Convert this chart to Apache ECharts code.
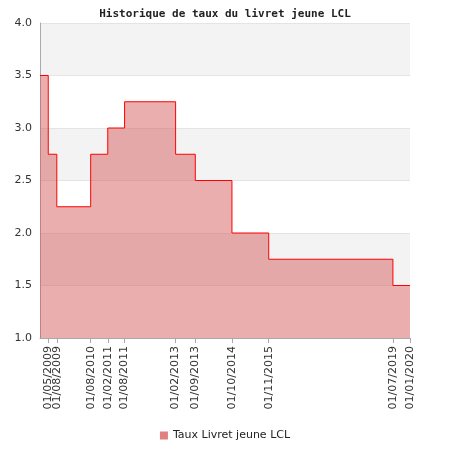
<!DOCTYPE html>
<html>
<head>
<meta charset="UTF-8">
<script src="https://cdn.jsdelivr.net/npm/echarts@6/dist/echarts.min.js"></script>
</head>
<body style="margin:0;">
<div id="chart" style="width:450px;height:450px;"></div>
<script>
var dates = ['2009-02-01','2009-05-01','2009-08-01','2010-08-01','2011-02-01','2011-08-01','2013-02-01','2013-09-01','2014-10-01','2015-11-01','2019-07-01','2020-01-01'];
var rates = [3.5, 2.75, 2.25, 2.75, 3.0, 3.25, 2.75, 2.5, 2.0, 1.75, 1.5, 1.5];
var yTicks = [1.0, 1.5, 2.0, 2.5, 3.0, 3.5, 4.0];

function ts(d) { return new Date(d + 'T00:00:00Z').getTime(); }
function pad(n) { return (n < 10 ? '0' : '') + n; }

var tickValues = dates.map(ts);
var seriesData = dates.map(function (d, i) { return [ts(d), rates[i]]; });

var chart = echarts.init(document.getElementById('chart'));
chart.setOption({
    animation: false,
    title: {
        text: 'Historique de taux du livret jeune LCL',
        left: 'center', top: 4,
        textStyle: {fontFamily: 'DejaVu Sans Mono', fontSize: 11, fontWeight: 'bold', color: '#222'}
    },
    graphic: [{
        type: 'text', right: 73, top: 44,
        style: {text: '© FranceTransactions.com', font: '12px "DejaVu Sans"', fill: '#222'}
    }],
    legend: {
        bottom: 4, itemWidth: 8, itemHeight: 8, icon: 'rect',
        textStyle: {fontFamily: 'DejaVu Sans', fontSize: 11, color: '#222'},
        data: ['Taux Livret jeune LCL']
    },
    grid: {left: 40, right: 40, top: 23, bottom: 112},
    xAxis: {
        type: 'value',
        min: tickValues[0], max: tickValues[tickValues.length - 1],
        axisLine: {lineStyle: {color: '#aaa'}},
        splitLine: {show: false},
        axisTick: {customValues: tickValues, lineStyle: {color: '#aaa'}},
        axisLabel: {
            customValues: tickValues, rotate: 90, hideOverlap: false,
            fontFamily: 'DejaVu Sans', fontSize: 11, color: '#333',
            formatter: function (v) {
                var d = new Date(v);
                return pad(d.getUTCDate()) + '/' + pad(d.getUTCMonth() + 1) + '/' + d.getUTCFullYear();
            }
        }
    },
    yAxis: {
        type: 'value', min: yTicks[0], max: yTicks[yTicks.length - 1], interval: 0.5,
        axisLine: {show: true, lineStyle: {color: '#aaa'}},
        axisTick: {show: false},
        axisLabel: {fontFamily: 'DejaVu Sans', fontSize: 11, color: '#333',
            formatter: function (v) { return v.toFixed(1); }},
        splitLine: {lineStyle: {color: '#e4e4e4'}},
        splitArea: {show: true, areaStyle: {color: ['#ffffff', '#f3f3f3']}}
    },
    series: [{
        name: 'Taux Livret jeune LCL',
        type: 'line', step: 'end', symbol: 'none',
        data: seriesData,
        itemStyle: {color: '#e08080'},
        lineStyle: {color: '#ff0000', width: 1},
        areaStyle: {color: 'rgba(214,90,90,0.7)', origin: 'start'}
    }]
});
</script>
</body>
</html>
